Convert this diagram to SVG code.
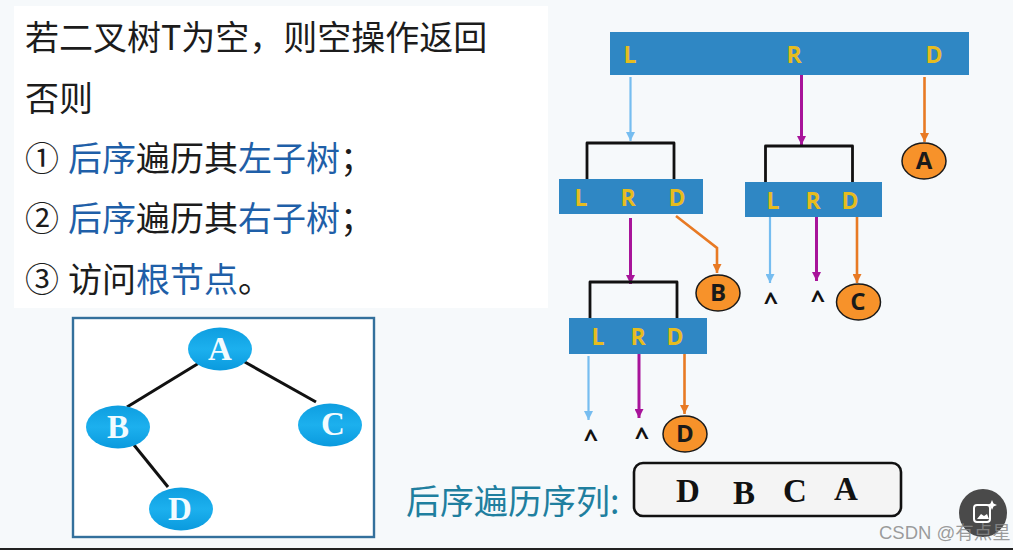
<svg xmlns="http://www.w3.org/2000/svg" width="1013" height="550" viewBox="0 0 1013 550">
<style>
.cn{font-family:"Noto Sans CJK SC","Liberation Sans",sans-serif;font-size:34px;fill:#1c1c1c}
.b{fill:#1f5fa8}
.bar{fill:#2f87c4}
.lrd{font-family:"Open Sans","Liberation Sans",sans-serif;font-size:23px;font-weight:700;fill:#e6bc1e;text-anchor:middle}
.oval{fill:#f7922a;stroke:#1a1a1a;stroke-width:1.5}
.ol{font-family:"Open Sans","Liberation Sans",sans-serif;font-size:24px;font-weight:700;fill:#1a1a1a;text-anchor:middle}
.tree{fill:url(#blue)}
.tl{font-family:"Liberation Serif",serif;font-size:33px;font-weight:700;fill:#f2fbff;text-anchor:middle}
.seq{font-family:"Liberation Serif",serif;font-size:33px;font-weight:700;fill:#111;text-anchor:middle}
.caret{font-family:"Open Sans","Liberation Sans",sans-serif;font-size:25px;font-weight:700;fill:#111;text-anchor:middle}
.k{fill:none;stroke:#111;stroke-width:2.8;stroke-linejoin:round}
.e{stroke:#111;stroke-width:3}
.lb{fill:none;stroke:#76bdf0;stroke-width:2.2}
.mg{fill:none;stroke:#a8149a;stroke-width:3}
.or{fill:none;stroke:#e87a24;stroke-width:2.6}
</style>
<defs>
<linearGradient id="blue" x1="0" y1="0" x2="0" y2="1"><stop offset="0" stop-color="#0e9ee0"/><stop offset="0.5" stop-color="#1cb0ee"/><stop offset="1" stop-color="#0a9ade"/></linearGradient>
<marker id="ab" markerUnits="userSpaceOnUse" markerWidth="10" markerHeight="9" refX="9" refY="4.5" orient="auto"><path d="M0 0L9 4.5L0 9z" fill="#76bdf0"/></marker>
<marker id="am" markerUnits="userSpaceOnUse" markerWidth="10" markerHeight="9" refX="9" refY="4.5" orient="auto"><path d="M0 0L9 4.5L0 9z" fill="#a8149a"/></marker>
<marker id="ao" markerUnits="userSpaceOnUse" markerWidth="10" markerHeight="9" refX="9" refY="4.5" orient="auto"><path d="M0 0L9 4.5L0 9z" fill="#e87a24"/></marker>
</defs>
<rect width="1013" height="550" fill="#f6f9fb"/>
<rect x="14" y="6" width="534" height="302" fill="#ffffff"/>
<rect x="0" y="548" width="1013" height="2" fill="#222"/>
<g id="rules">
<text class="cn" x="25" y="50">若二叉树T为空，则空操作返回</text>
<text class="cn" x="25" y="111">否则</text>
<text class="cn" x="25" y="171">①</text>
<text class="cn" x="68" y="171"><tspan class="b">后序</tspan>遍历其<tspan class="b">左子树</tspan>；</text>
<text class="cn" x="25" y="231">②</text>
<text class="cn" x="68" y="231"><tspan class="b">后序</tspan>遍历其<tspan class="b">右子树</tspan>；</text>
<text class="cn" x="25" y="292">③</text>
<text class="cn" x="68" y="292">访问<tspan class="b">根节点</tspan>。</text>
</g>
<g id="tree-box"><rect x="73" y="318" width="301" height="219" fill="#fff" stroke="#33709c" stroke-width="2.4"/></g>
<g id="connectors">
<line class="e" x1="199" y1="363" x2="127" y2="407"/>
<line class="e" x1="243" y1="361" x2="316" y2="402"/>
<line class="e" x1="134" y1="445" x2="168" y2="487"/>
<path class="lb" d="M630.500 77V141" marker-end="url(#ab)"/>
<path class="mg" d="M801.500 67V145" marker-end="url(#am)"/>
<path class="or" d="M924.500 77V142" marker-end="url(#ao)"/>
<path class="mg" d="M630.500 218V284" marker-end="url(#am)"/>
<path class="or" d="M676 216L717 248V273" marker-end="url(#ao)"/>
<path class="lb" d="M770 217V283" marker-end="url(#ab)"/>
<path class="mg" d="M816.500 217V281" marker-end="url(#am)"/>
<path class="or" d="M857 217V283" marker-end="url(#ao)"/>
<path class="lb" d="M588.500 356V420" marker-end="url(#ab)"/>
<path class="mg" d="M639 354V418" marker-end="url(#am)"/>
<path class="or" d="M684.500 351V414" marker-end="url(#ao)"/>
</g>
<g id="tree-a"><ellipse class="tree" cx="220" cy="349" rx="32" ry="21.500"/><text class="tl" x="220" y="360">A</text></g>
<g id="tree-b"><ellipse class="tree" cx="118" cy="427" rx="32" ry="21.500"/><text class="tl" x="118" y="438">B</text></g>
<g id="tree-c"><ellipse class="tree" cx="330" cy="425" rx="32" ry="21.500"/><text class="tl" x="333" y="435">C</text></g>
<g id="tree-d"><ellipse class="tree" cx="181" cy="509" rx="32" ry="21.500"/><text class="tl" x="180" y="520">D</text></g>
<g id="bar-root"><rect class="bar" x="610" y="32" width="359" height="43"/>
<text class="lrd" x="630" y="63">L</text><text class="lrd" x="794" y="63">R</text><text class="lrd" x="934" y="63">D</text></g>
<g id="bar-b"><path class="k" d="M587 179V143H674V179"/><rect class="bar" x="559" y="179" width="144" height="35"/>
<text class="lrd" x="581" y="206">L</text><text class="lrd" x="628" y="206">R</text><text class="lrd" x="677" y="206">D</text></g>
<g id="bar-c"><path class="k" d="M765.500 182V146H852.500V182"/><rect class="bar" x="745" y="182" width="137" height="35"/>
<text class="lrd" x="773" y="209">L</text><text class="lrd" x="813" y="209">R</text><text class="lrd" x="850" y="209">D</text></g>
<g id="bar-d"><path class="k" d="M590 318V282H677V318"/><rect class="bar" x="569" y="318" width="138" height="36"/>
<text class="lrd" x="598" y="345">L</text><text class="lrd" x="638" y="345">R</text><text class="lrd" x="675" y="345">D</text></g>
<g id="visit-a"><ellipse class="oval" cx="924" cy="161" rx="22" ry="18"/><text class="ol" x="924" y="169">A</text></g>
<g id="visit-b"><ellipse class="oval" cx="718" cy="293" rx="22" ry="18"/><text class="ol" x="718" y="301">B</text></g>
<g id="visit-c"><ellipse class="oval" cx="858.500" cy="302" rx="22" ry="18"/><text class="ol" x="858" y="310">C</text></g>
<g id="visit-d"><ellipse class="oval" cx="685" cy="434" rx="22" ry="18"/><text class="ol" x="685" y="442">D</text></g>
<g id="nulls">
<text class="caret" x="771" y="310">^</text><text class="caret" x="818" y="308">^</text>
<text class="caret" x="591" y="447">^</text><text class="caret" x="642" y="445">^</text>
</g>
<g id="sequence">
<text x="406" y="514" font-family="'Noto Sans CJK SC',sans-serif" font-size="34" fill="#1f7f9f">后序遍历序列:</text>
<rect x="634" y="463" width="267" height="53" rx="9" fill="#f4f4f4" stroke="#111" stroke-width="2.6"/>
<text class="seq" x="688" y="502">D</text><text class="seq" x="744" y="504">B</text><text class="seq" x="795" y="502">C</text><text class="seq" x="846" y="500">A</text>
</g>
<g id="badge"><circle cx="983" cy="513" r="24" fill="#4a4a4a"/>
<rect x="974" y="505" width="16" height="17" rx="3" fill="none" stroke="#fff" stroke-width="2"/>
<path d="M977 519L981 514L984 516L987 514L989 519z" fill="#fff"/>
<path d="M992 500L993.500 503.500L997 505L993.500 506.500L992 510L990.500 506.500L987 505L990.500 503.500z" fill="#fff"/></g>
<text x="879" y="539" font-family="'Liberation Sans','Noto Sans CJK SC',sans-serif" font-size="18.500" fill="#8a8a8a" fill-opacity="0.85">CSDN @有点星</text>
</svg>
